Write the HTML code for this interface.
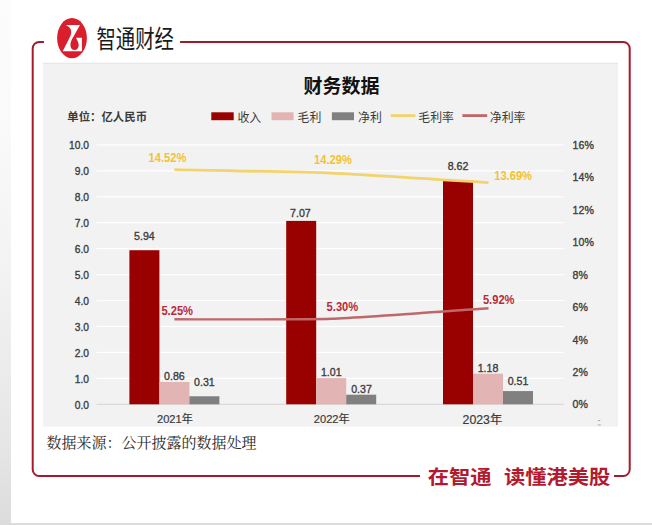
<!DOCTYPE html>
<html><head><meta charset="utf-8"><title>财务数据</title>
<style>html,body{margin:0;padding:0;background:#fff;} body{width:652px;height:525px;overflow:hidden;} svg{display:block;}</style>
</head><body>
<svg width="652" height="525" viewBox="0 0 652 525">
<defs><linearGradient id="lg" x1="0" y1="0" x2="0" y2="1"><stop offset="0" stop-color="#fcfcfc"/><stop offset="0.23" stop-color="#fafafa"/><stop offset="0.5" stop-color="#f3f3f3"/><stop offset="0.69" stop-color="#ececec"/><stop offset="0.84" stop-color="#e6e6e6"/><stop offset="1" stop-color="#dcdcdc"/></linearGradient></defs>
<rect x="0" y="0" width="11" height="525" fill="url(#lg)"/>
<rect x="0" y="523" width="652" height="2" fill="#dcdcdc"/>
<path d="M44,42.0 L39.2,42.0 A6.5,6.5 0 0 0 32.7,48.5 L32.7,469.5 A6.5,6.5 0 0 0 39.2,476.0 L420,476.0 M614,476.0 L623.2,476.0 A6.5,6.5 0 0 0 629.7,469.5 L629.7,48.5 A6.5,6.5 0 0 0 623.2,42.0 L180,42.0" fill="none" stroke="#a31b2b" stroke-width="2"/>
<g><ellipse cx="72" cy="38.1" rx="14.9" ry="20.1" fill="#d91f2e"/><path d="M65.6,25 L80,25 L73.8,36 C72.2,38.6 70.4,41.6 70.4,45 C70.4,48 72.2,50.1 74.5,50.1 C76.8,50.1 78.7,48 78.7,45 C78.7,42.2 77,40 76.1,37.8 L81.9,37.8 L81.9,51.2 L62.7,51.2 L70.4,36 C71.5,33.2 71.5,30.6 70.2,28.6 C69,26.8 67.4,25.7 65.6,25 Z" fill="#fff"/></g>
<text x="0" y="0" transform="translate(96.4,47.7) scale(0.97,1.24)" font-family="'Noto Sans CJK SC', sans-serif" font-weight="400" font-size="20" fill="#1a1a1a" letter-spacing="0">智通财经</text>
<rect x="43" y="62.8" width="575" height="363.8" fill="#f2f2f2"/>
<rect x="43" y="62.8" width="575" height="1" fill="#e4e4e4"/>
<text x="341.5" y="92.5" text-anchor="middle" font-family="'Noto Sans CJK SC', sans-serif" font-weight="700" font-size="19" fill="#111">财务数据</text>
<text transform="translate(67.30,121.20)" font-weight="700" font-family="'Noto Sans CJK SC', sans-serif" font-size="11.4" fill="#3a3a3a">单位：亿人民币</text>
<rect x="211.3" y="112.3" width="22.4" height="7.9" fill="#990000"/>
<rect x="271.5" y="112.3" width="22.1" height="7.9" fill="#e2b5b4"/>
<rect x="331.9" y="112.3" width="22.1" height="7.9" fill="#808080"/>
<rect x="390.8" y="114.2" width="24.6" height="2.8" fill="#f3d46c"/>
<rect x="462.4" y="114.2" width="24.8" height="2.8" fill="#bf6769"/>
<text transform="translate(237.40,121.50) scale(0.96,1.0)" font-family="'Noto Sans CJK SC', sans-serif" font-size="12.4" fill="#3a3a3a">收入</text>
<text transform="translate(297.50,121.50) scale(0.96,1.0)" font-family="'Noto Sans CJK SC', sans-serif" font-size="12.4" fill="#3a3a3a">毛利</text>
<text transform="translate(358.00,121.50) scale(0.96,1.0)" font-family="'Noto Sans CJK SC', sans-serif" font-size="12.4" fill="#3a3a3a">净利</text>
<text transform="translate(418.30,121.50) scale(0.96,1.0)" font-family="'Noto Sans CJK SC', sans-serif" font-size="12.4" fill="#3a3a3a">毛利率</text>
<text transform="translate(489.80,121.50) scale(0.96,1.0)" font-family="'Noto Sans CJK SC', sans-serif" font-size="12.4" fill="#3a3a3a">净利率</text>
<rect x="96.6" y="403.70" width="467.6" height="1.2" fill="#d9d9d9"/>
<rect x="96.6" y="377.76" width="467.6" height="1.2" fill="#ffffff"/>
<rect x="96.6" y="351.82" width="467.6" height="1.2" fill="#ffffff"/>
<rect x="96.6" y="325.88" width="467.6" height="1.2" fill="#ffffff"/>
<rect x="96.6" y="299.94" width="467.6" height="1.2" fill="#ffffff"/>
<rect x="96.6" y="274.00" width="467.6" height="1.2" fill="#ffffff"/>
<rect x="96.6" y="248.06" width="467.6" height="1.2" fill="#ffffff"/>
<rect x="96.6" y="222.12" width="467.6" height="1.2" fill="#ffffff"/>
<rect x="96.6" y="196.18" width="467.6" height="1.2" fill="#ffffff"/>
<rect x="96.6" y="170.24" width="467.6" height="1.2" fill="#ffffff"/>
<rect x="96.6" y="144.30" width="467.6" height="1.2" fill="#ffffff"/>
<text transform="translate(89.00,408.50) scale(0.9,1.0)" text-anchor="end" font-family="'Liberation Sans', 'Noto Sans CJK SC', sans-serif" font-size="11.4" fill="#404040" stroke="#3a3a3a" stroke-width="0.35">0.0</text>
<text transform="translate(89.00,382.56) scale(0.9,1.0)" text-anchor="end" font-family="'Liberation Sans', 'Noto Sans CJK SC', sans-serif" font-size="11.4" fill="#404040" stroke="#3a3a3a" stroke-width="0.35">1.0</text>
<text transform="translate(89.00,356.62) scale(0.9,1.0)" text-anchor="end" font-family="'Liberation Sans', 'Noto Sans CJK SC', sans-serif" font-size="11.4" fill="#404040" stroke="#3a3a3a" stroke-width="0.35">2.0</text>
<text transform="translate(89.00,330.68) scale(0.9,1.0)" text-anchor="end" font-family="'Liberation Sans', 'Noto Sans CJK SC', sans-serif" font-size="11.4" fill="#404040" stroke="#3a3a3a" stroke-width="0.35">3.0</text>
<text transform="translate(89.00,304.74) scale(0.9,1.0)" text-anchor="end" font-family="'Liberation Sans', 'Noto Sans CJK SC', sans-serif" font-size="11.4" fill="#404040" stroke="#3a3a3a" stroke-width="0.35">4.0</text>
<text transform="translate(89.00,278.80) scale(0.9,1.0)" text-anchor="end" font-family="'Liberation Sans', 'Noto Sans CJK SC', sans-serif" font-size="11.4" fill="#404040" stroke="#3a3a3a" stroke-width="0.35">5.0</text>
<text transform="translate(89.00,252.86) scale(0.9,1.0)" text-anchor="end" font-family="'Liberation Sans', 'Noto Sans CJK SC', sans-serif" font-size="11.4" fill="#404040" stroke="#3a3a3a" stroke-width="0.35">6.0</text>
<text transform="translate(89.00,226.92) scale(0.9,1.0)" text-anchor="end" font-family="'Liberation Sans', 'Noto Sans CJK SC', sans-serif" font-size="11.4" fill="#404040" stroke="#3a3a3a" stroke-width="0.35">7.0</text>
<text transform="translate(89.00,200.98) scale(0.9,1.0)" text-anchor="end" font-family="'Liberation Sans', 'Noto Sans CJK SC', sans-serif" font-size="11.4" fill="#404040" stroke="#3a3a3a" stroke-width="0.35">8.0</text>
<text transform="translate(89.00,175.04) scale(0.9,1.0)" text-anchor="end" font-family="'Liberation Sans', 'Noto Sans CJK SC', sans-serif" font-size="11.4" fill="#404040" stroke="#3a3a3a" stroke-width="0.35">9.0</text>
<text transform="translate(89.00,149.10) scale(0.9,1.0)" text-anchor="end" font-family="'Liberation Sans', 'Noto Sans CJK SC', sans-serif" font-size="11.4" fill="#404040" stroke="#3a3a3a" stroke-width="0.35">10.0</text>
<text transform="translate(572.60,408.40) scale(0.93,1.0)" font-family="'Liberation Sans', 'Noto Sans CJK SC', sans-serif" font-size="11.4" fill="#404040" stroke="#3a3a3a" stroke-width="0.35">0%</text>
<text transform="translate(572.60,375.98) scale(0.93,1.0)" font-family="'Liberation Sans', 'Noto Sans CJK SC', sans-serif" font-size="11.4" fill="#404040" stroke="#3a3a3a" stroke-width="0.35">2%</text>
<text transform="translate(572.60,343.55) scale(0.93,1.0)" font-family="'Liberation Sans', 'Noto Sans CJK SC', sans-serif" font-size="11.4" fill="#404040" stroke="#3a3a3a" stroke-width="0.35">4%</text>
<text transform="translate(572.60,311.13) scale(0.93,1.0)" font-family="'Liberation Sans', 'Noto Sans CJK SC', sans-serif" font-size="11.4" fill="#404040" stroke="#3a3a3a" stroke-width="0.35">6%</text>
<text transform="translate(572.60,278.70) scale(0.93,1.0)" font-family="'Liberation Sans', 'Noto Sans CJK SC', sans-serif" font-size="11.4" fill="#404040" stroke="#3a3a3a" stroke-width="0.35">8%</text>
<text transform="translate(572.60,246.28) scale(0.93,1.0)" font-family="'Liberation Sans', 'Noto Sans CJK SC', sans-serif" font-size="11.4" fill="#404040" stroke="#3a3a3a" stroke-width="0.35">10%</text>
<text transform="translate(572.60,213.85) scale(0.93,1.0)" font-family="'Liberation Sans', 'Noto Sans CJK SC', sans-serif" font-size="11.4" fill="#404040" stroke="#3a3a3a" stroke-width="0.35">12%</text>
<text transform="translate(572.60,181.43) scale(0.93,1.0)" font-family="'Liberation Sans', 'Noto Sans CJK SC', sans-serif" font-size="11.4" fill="#404040" stroke="#3a3a3a" stroke-width="0.35">14%</text>
<text transform="translate(572.60,149.00) scale(0.93,1.0)" font-family="'Liberation Sans', 'Noto Sans CJK SC', sans-serif" font-size="11.4" fill="#404040" stroke="#3a3a3a" stroke-width="0.35">16%</text>
<rect x="129.4" y="250.22" width="30" height="154.08" fill="#990000"/>
<rect x="159.4" y="381.99" width="30" height="22.31" fill="#e2b5b4"/>
<rect x="189.4" y="396.26" width="30" height="8.04" fill="#808080"/>
<rect x="286.2" y="220.90" width="30" height="183.40" fill="#990000"/>
<rect x="316.2" y="378.10" width="30" height="26.20" fill="#e2b5b4"/>
<rect x="346.2" y="394.70" width="30" height="9.60" fill="#808080"/>
<rect x="443.0" y="180.70" width="30" height="223.60" fill="#990000"/>
<rect x="473.0" y="373.69" width="30" height="30.61" fill="#e2b5b4"/>
<rect x="503.0" y="391.07" width="30" height="13.23" fill="#808080"/>
<path d="M174.4,169.70 C188.5,170.01 302.9,171.94 331.2,173.10 C359.5,174.26 474.3,181.75 488.5,182.60" fill="none" stroke="#f3d46c" stroke-width="2.8"/>
<path d="M174.4,319.30 C188.5,319.25 302.9,319.80 331.2,318.80 C359.5,317.80 474.3,309.15 488.5,308.20" fill="none" stroke="#bf6769" stroke-width="2.4"/>
<text transform="translate(144.40,240.30) scale(0.95,1.0)" text-anchor="middle" font-family="'Liberation Sans', 'Noto Sans CJK SC', sans-serif" font-size="11.2" fill="#404040" stroke="#3a3a3a" stroke-width="0.35">5.94</text>
<text transform="translate(174.40,379.70) scale(0.95,1.0)" text-anchor="middle" font-family="'Liberation Sans', 'Noto Sans CJK SC', sans-serif" font-size="11.2" fill="#404040" stroke="#3a3a3a" stroke-width="0.35">0.86</text>
<text transform="translate(204.40,386.00) scale(0.95,1.0)" text-anchor="middle" font-family="'Liberation Sans', 'Noto Sans CJK SC', sans-serif" font-size="11.2" fill="#404040" stroke="#3a3a3a" stroke-width="0.35">0.31</text>
<text transform="translate(300.40,216.80) scale(0.95,1.0)" text-anchor="middle" font-family="'Liberation Sans', 'Noto Sans CJK SC', sans-serif" font-size="11.2" fill="#404040" stroke="#3a3a3a" stroke-width="0.35">7.07</text>
<text transform="translate(331.30,376.00) scale(0.95,1.0)" text-anchor="middle" font-family="'Liberation Sans', 'Noto Sans CJK SC', sans-serif" font-size="11.2" fill="#404040" stroke="#3a3a3a" stroke-width="0.35">1.01</text>
<text transform="translate(361.50,392.60) scale(0.95,1.0)" text-anchor="middle" font-family="'Liberation Sans', 'Noto Sans CJK SC', sans-serif" font-size="11.2" fill="#404040" stroke="#3a3a3a" stroke-width="0.35">0.37</text>
<text transform="translate(458.00,170.00) scale(0.95,1.0)" text-anchor="middle" font-family="'Liberation Sans', 'Noto Sans CJK SC', sans-serif" font-size="11.2" fill="#404040" stroke="#3a3a3a" stroke-width="0.35">8.62</text>
<text transform="translate(488.00,372.00) scale(0.95,1.0)" text-anchor="middle" font-family="'Liberation Sans', 'Noto Sans CJK SC', sans-serif" font-size="11.2" fill="#404040" stroke="#3a3a3a" stroke-width="0.35">1.18</text>
<text transform="translate(518.00,384.60) scale(0.95,1.0)" text-anchor="middle" font-family="'Liberation Sans', 'Noto Sans CJK SC', sans-serif" font-size="11.2" fill="#404040" stroke="#3a3a3a" stroke-width="0.35">0.51</text>
<text transform="translate(148.60,162.00) scale(0.93,1.0)" font-weight="700" font-family="'Liberation Sans', 'Noto Sans CJK SC', sans-serif" font-size="12" fill="#f3c232">14.52%</text>
<text transform="translate(314.10,164.30) scale(0.93,1.0)" font-weight="700" font-family="'Liberation Sans', 'Noto Sans CJK SC', sans-serif" font-size="12" fill="#f3c232">14.29%</text>
<text transform="translate(494.20,179.60) scale(0.93,1.0)" font-weight="700" font-family="'Liberation Sans', 'Noto Sans CJK SC', sans-serif" font-size="12" fill="#f3c232">13.69%</text>
<text transform="translate(161.40,314.90) scale(0.93,1.0)" font-weight="700" font-family="'Liberation Sans', 'Noto Sans CJK SC', sans-serif" font-size="12" fill="#bb2a3a">5.25%</text>
<text transform="translate(326.60,310.60) scale(0.93,1.0)" font-weight="700" font-family="'Liberation Sans', 'Noto Sans CJK SC', sans-serif" font-size="12" fill="#bb2a3a">5.30%</text>
<text transform="translate(482.90,304.30) scale(0.93,1.0)" font-weight="700" font-family="'Liberation Sans', 'Noto Sans CJK SC', sans-serif" font-size="12" fill="#bb2a3a">5.92%</text>
<text transform="translate(174.90,422.60)" text-anchor="middle" font-family="'Liberation Sans', 'Noto Sans CJK SC', sans-serif" font-size="11.1" fill="#3c3c3c" stroke="#3c3c3c" stroke-width="0.2">2021年</text>
<text transform="translate(331.70,422.60)" text-anchor="middle" font-family="'Liberation Sans', 'Noto Sans CJK SC', sans-serif" font-size="11.1" fill="#3c3c3c" stroke="#3c3c3c" stroke-width="0.2">2022年</text>
<text transform="translate(482.40,423.90)" text-anchor="middle" font-family="'Liberation Sans', 'Noto Sans CJK SC', sans-serif" font-size="12.3" fill="#3c3c3c" stroke="#3c3c3c" stroke-width="0.2">2023年</text>
<rect x="597.8" y="420" width="2.5" height="1" fill="#aaa"/><rect x="597.8" y="424.5" width="3" height="1" fill="#aaa"/>
<text x="46.6" y="448.0" font-family="'Noto Serif CJK SC', serif" font-size="15" fill="#2a2a2a">数据来源：公开披露的数据处理</text>
<text transform="translate(427.80,484.20) scale(1.0,0.93)" font-weight="700" font-family="'Noto Sans CJK SC', sans-serif" font-size="21.3" fill="#b21a30">在智通</text>
<text transform="translate(504.00,484.20) scale(1.0,0.93)" font-weight="700" font-family="'Noto Sans CJK SC', sans-serif" font-size="21.3" fill="#b21a30">读懂港美股</text>
</svg>
</body></html>
